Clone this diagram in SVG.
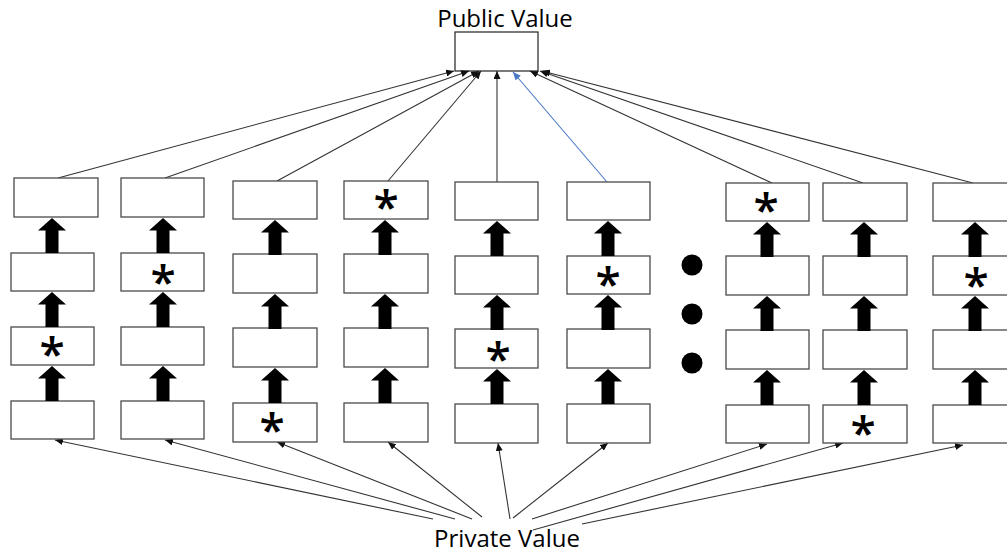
<svg xmlns="http://www.w3.org/2000/svg" xmlns:xlink="http://www.w3.org/1999/xlink" width="1007" height="554" viewBox="0 0 1007 554">
  <style>
    .box { fill: #ffffff; stroke: #4a4a4a; stroke-width: 1.3; }
    .pub { fill: #ffffff; stroke: #222222; stroke-width: 1.2; }
    .label { font-family: "Open Sans", "Noto Sans", sans-serif; font-size: 24px; fill: #000000; text-anchor: middle; }
    .ast { font-family: "Open Sans", "Noto Sans", sans-serif; font-size: 46px; font-weight: 600; fill: #000000; text-anchor: middle; }
    .link { fill: none; stroke: #333333; stroke-width: 1.1; marker-end: url(#tip); }
    .link-blue { fill: none; stroke: #4a78c8; stroke-width: 1.1; marker-end: url(#tip-blue); }
    .block { fill: #000000; }
    .dot { fill: #000000; }
  </style>
  <defs>
    <marker id="tip" markerUnits="userSpaceOnUse" markerWidth="9" markerHeight="7" refX="8" refY="3.5" orient="auto">
      <path d="M0,0 L8,3.5 L0,7 Z" fill="#111111"/>
    </marker>
    <marker id="tip-blue" markerUnits="userSpaceOnUse" markerWidth="9" markerHeight="7" refX="8" refY="3.5" orient="auto">
      <path d="M0,0 L8,3.5 L0,7 Z" fill="#4a78c8"/>
    </marker>
    <!-- thick upward block arrow, tip at origin -->
    <path id="up" class="block" d="M0,0 L14,12.5 L6.5,12.5 L6.5,35 L-6.5,35 L-6.5,12.5 L-14,12.5 Z"/>
  </defs>

  <rect width="1007" height="554" fill="#ffffff"/>

  <!-- top aggregate -->
  <g id="public-value">
    <rect class="pub" x="455" y="32" width="83" height="39"/>
    <text class="label" x="505" y="27">Public Value</text>
  </g>

  <!-- bottom source label -->
  <g id="private-value">
    <text class="label" x="507" y="547">Private Value</text>
  </g>

  <!-- connectors -->
  <g id="connectors">
    <!-- column tops to the public value box -->
    <line class="link" x1="58" y1="178" x2="454" y2="71"/>
    <line class="link" x1="165" y1="178" x2="469" y2="71"/>
    <line class="link" x1="277" y1="181" x2="479" y2="71"/>
    <line class="link" x1="388" y1="181" x2="481" y2="71"/>
    <line class="link" x1="497" y1="182" x2="497" y2="71"/>
    <line class="link-blue" x1="607" y1="182" x2="513" y2="72"/>
    <line class="link" x1="772" y1="183" x2="530" y2="71"/>
    <line class="link" x1="863" y1="183" x2="540" y2="71"/>
    <line class="link" x1="973" y1="183" x2="542" y2="71"/>

    <!-- private value to column bottoms -->
    <line class="link" x1="433" y1="519" x2="55" y2="440"/>
    <line class="link" x1="455" y1="519" x2="165" y2="440"/>
    <line class="link" x1="472" y1="519" x2="277" y2="442"/>
    <line class="link" x1="482" y1="517" x2="388" y2="442"/>
    <line class="link" x1="510" y1="519" x2="498" y2="443"/>
    <line class="link" x1="513" y1="518" x2="608" y2="443"/>
    <line class="link" x1="532" y1="519" x2="767" y2="444"/>
    <line class="link" x1="533" y1="530" x2="843" y2="443"/>
    <line class="link" x1="582" y1="524" x2="963" y2="445"/>
  </g>

  <!-- column 1 -->
  <g id="col1">
    <rect class="box" x="14" y="178" width="84" height="39"/>
    <rect class="box" x="11" y="253" width="83" height="38"/>
    <rect class="box" x="11" y="327" width="83" height="38"/>
    <rect class="box" x="11" y="401" width="83" height="38"/>
    <text class="ast" x="52" y="370">*</text>
  </g>
  <!-- column 2 -->
  <g id="col2">
    <rect class="box" x="121" y="178" width="83" height="39"/>
    <rect class="box" x="121" y="253" width="83" height="38"/>
    <rect class="box" x="121" y="327" width="83" height="38"/>
    <rect class="box" x="121" y="401" width="83" height="38"/>
    <text class="ast" x="163" y="298">*</text>
  </g>
  <!-- column 3 -->
  <g id="col3">
    <rect class="box" x="233" y="181" width="84" height="38"/>
    <rect class="box" x="233" y="254" width="84" height="39"/>
    <rect class="box" x="233" y="328" width="84" height="39"/>
    <rect class="box" x="233" y="403" width="84" height="39"/>
    <text class="ast" x="272" y="446">*</text>
  </g>
  <!-- column 4 -->
  <g id="col4">
    <rect class="box" x="344" y="181" width="84" height="38"/>
    <rect class="box" x="344" y="254" width="84" height="39"/>
    <rect class="box" x="344" y="328" width="84" height="39"/>
    <rect class="box" x="344" y="403" width="84" height="39"/>
    <text class="ast" x="386" y="223">*</text>
  </g>
  <!-- column 5 -->
  <g id="col5">
    <rect class="box" x="455" y="182" width="83" height="38"/>
    <rect class="box" x="455" y="256" width="83" height="38"/>
    <rect class="box" x="455" y="329" width="83" height="39"/>
    <rect class="box" x="455" y="404" width="83" height="39"/>
    <text class="ast" x="498" y="375">*</text>
  </g>
  <!-- column 6 -->
  <g id="col6">
    <rect class="box" x="567" y="182" width="83" height="38"/>
    <rect class="box" x="567" y="256" width="83" height="38"/>
    <rect class="box" x="567" y="329" width="83" height="39"/>
    <rect class="box" x="567" y="404" width="83" height="39"/>
    <text class="ast" x="608" y="300">*</text>
  </g>
  <!-- ellipsis between columns -->
  <g id="ellipsis">
    <circle class="dot" cx="692" cy="265" r="10.5"/>
    <circle class="dot" cx="692" cy="314" r="10.5"/>
    <circle class="dot" cx="692" cy="363" r="10.5"/>
  </g>
  <!-- column 7 -->
  <g id="col7">
    <rect class="box" x="726" y="183" width="83" height="38"/>
    <rect class="box" x="726" y="256" width="83" height="39"/>
    <rect class="box" x="726" y="330" width="83" height="39"/>
    <rect class="box" x="726" y="405" width="83" height="38"/>
    <text class="ast" x="766" y="226">*</text>
  </g>
  <!-- column 8 -->
  <g id="col8">
    <rect class="box" x="823" y="183" width="84" height="38"/>
    <rect class="box" x="823" y="256" width="84" height="39"/>
    <rect class="box" x="823" y="330" width="84" height="39"/>
    <rect class="box" x="823" y="405" width="84" height="38"/>
    <text class="ast" x="863" y="449">*</text>
  </g>
  <!-- column 9 -->
  <g id="col9">
    <rect class="box" x="933" y="183" width="84" height="38"/>
    <rect class="box" x="933" y="256" width="84" height="39"/>
    <rect class="box" x="933" y="330" width="84" height="39"/>
    <rect class="box" x="933" y="405" width="84" height="38"/>
    <text class="ast" x="976" y="301">*</text>
  </g>

  <!-- block arrows between stacked boxes -->
  <g id="stack-arrows">
    <use xlink:href="#up" x="52" y="218"/>
    <use xlink:href="#up" x="52" y="292"/>
    <use xlink:href="#up" x="52" y="366"/>
    <use xlink:href="#up" x="163" y="218"/>
    <use xlink:href="#up" x="163" y="292"/>
    <use xlink:href="#up" x="163" y="366"/>
    <use xlink:href="#up" x="275" y="220"/>
    <use xlink:href="#up" x="275" y="294"/>
    <use xlink:href="#up" x="275" y="368"/>
    <use xlink:href="#up" x="385" y="220"/>
    <use xlink:href="#up" x="385" y="294"/>
    <use xlink:href="#up" x="385" y="368"/>
    <use xlink:href="#up" x="497" y="221"/>
    <use xlink:href="#up" x="497" y="295"/>
    <use xlink:href="#up" x="497" y="369"/>
    <use xlink:href="#up" x="608" y="221"/>
    <use xlink:href="#up" x="608" y="295"/>
    <use xlink:href="#up" x="608" y="369"/>
    <use xlink:href="#up" x="767" y="222"/>
    <use xlink:href="#up" x="767" y="296"/>
    <use xlink:href="#up" x="767" y="370"/>
    <use xlink:href="#up" x="864" y="222"/>
    <use xlink:href="#up" x="864" y="296"/>
    <use xlink:href="#up" x="864" y="370"/>
    <use xlink:href="#up" x="975" y="222"/>
    <use xlink:href="#up" x="975" y="296"/>
    <use xlink:href="#up" x="975" y="370"/>
  </g>
</svg>
